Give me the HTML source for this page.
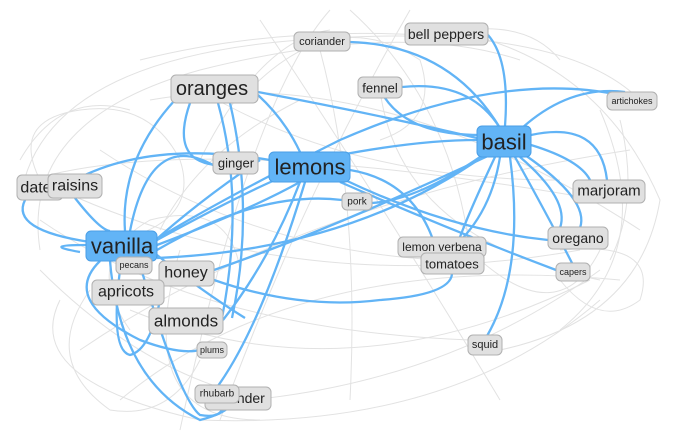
<!DOCTYPE html>
<html><head><meta charset="utf-8"><style>
html,body{margin:0;padding:0;background:#fff;}
svg{display:block;font-family:"Liberation Sans",sans-serif;}
.g{fill:none;stroke:#e2e2e2;stroke-width:1;}
.b{fill:none;stroke:#62b4f6;stroke-width:2.3;}
.n rect{fill:#e0e0e0;stroke:#b0b0b0;stroke-width:1;}
.h rect{fill:#62b4f6;stroke:#4a9ee6;stroke-width:1;}
text{fill:#222;text-anchor:middle;dominant-baseline:central;}
</style></head><body>
<svg width="690" height="435" viewBox="0 0 690 435">
<g class="g">
<path d="M20,200 Q40,60 300,40 Q560,20 640,100"/>
<path d="M40,250 Q20,120 200,70 Q400,20 520,60"/>
<path d="M60,300 Q20,380 200,420 Q450,430 600,300"/>
<path d="M120,400 Q300,250 620,280"/>
<path d="M150,100 Q380,60 640,230"/>
<path d="M30,180 Q200,130 600,200"/>
<path d="M80,350 Q300,200 630,150"/>
<path d="M180,430 Q250,100 330,10"/>
<path d="M220,420 Q300,200 410,10"/>
<path d="M260,20 Q380,200 500,400"/>
<path d="M320,50 Q360,200 350,400"/>
<path d="M380,90 Q400,240 600,280"/>
<path d="M450,30 Q600,60 660,200 Q640,320 500,350"/>
<path d="M600,110 Q660,250 560,330"/>
<path d="M40,220 Q200,330 470,340"/>
<path d="M100,150 Q250,250 440,260"/>
<path d="M200,90 Q350,180 560,180"/>
<path d="M60,190 Q300,300 580,250"/>
<path d="M130,310 Q350,400 590,280"/>
<path d="M250,400 Q450,380 600,270"/>
<path d="M140,60 Q300,20 480,40"/>
<path d="M40,270 Q150,380 270,400"/>
<path d="M350,10 Q450,100 470,250"/>
<path d="M420,40 Q520,10 560,60"/>
<path d="M160,230 Q200,150 300,100"/>
<path d="M620,120 Q640,200 610,260"/>
<path d="M40,180 Q10,120 80,110 Q150,100 180,160 Q200,220 120,240"/>
<path d="M90,290 Q40,360 110,410 Q170,420 200,360"/>
<path d="M130,330 Q80,260 150,220 Q230,200 240,270"/>
<path d="M240,100 Q330,0 420,60 Q440,120 380,140"/>
<path d="M560,250 Q660,240 640,300 Q600,330 560,280"/>
<path d="M480,260 Q560,330 600,250"/>
<path d="M20,160 Q60,90 130,110"/>
<path d="M180,250 Q130,420 260,420"/>
<path d="M200,160 Q260,40 330,30"/>
</g>
<g class="b">
<path d="M350,42 Q450,45 500,128"/>
<path d="M488,35 Q510,60 505,126"/>
<path d="M402,87 Q470,80 500,128"/>
<path d="M385,98 Q410,135 480,135"/>
<path d="M258,92 Q380,115 477,138"/>
<path d="M625,92 Q570,85 522,128"/>
<path d="M620,95 Q500,70 340,140 Q220,200 155,240"/>
<path d="M531,135 Q600,120 607,180"/>
<path d="M531,145 Q580,160 590,180"/>
<path d="M520,157 Q570,200 560,228"/>
<path d="M525,155 Q590,200 580,228"/>
<path d="M515,157 Q550,220 572,263"/>
<path d="M510,157 Q525,270 487,336"/>
<path d="M500,157 Q490,220 445,254"/>
<path d="M495,157 Q470,210 460,237"/>
<path d="M485,155 Q350,250 157,258"/>
<path d="M490,150 Q420,200 372,203"/>
<path d="M340,155 Q420,140 477,140"/>
<path d="M350,170 Q410,180 432,237"/>
<path d="M345,180 Q450,230 548,240"/>
<path d="M340,182 Q450,230 556,270"/>
<path d="M258,95 Q285,120 300,152"/>
<path d="M218,103 Q245,200 222,318"/>
<path d="M230,103 Q255,210 232,318"/>
<path d="M175,100 Q120,160 125,231"/>
<path d="M190,103 Q170,160 215,165"/>
<path d="M75,180 Q150,140 270,160"/>
<path d="M25,200 Q10,230 90,242"/>
<path d="M75,198 Q100,230 110,231"/>
<path d="M157,240 Q230,200 275,180"/>
<path d="M157,245 Q250,210 300,182"/>
<path d="M157,250 Q260,190 342,200"/>
<path d="M214,270 Q330,230 490,155"/>
<path d="M214,280 Q300,310 380,300 Q450,295 452,274"/>
<path d="M305,182 Q260,330 215,390"/>
<path d="M300,182 Q270,260 223,320"/>
<path d="M100,261 Q60,300 140,340 Q180,355 200,350"/>
<path d="M110,261 Q120,380 200,420 Q240,410 235,390"/>
<path d="M130,231 Q150,130 213,165"/>
<path d="M157,255 Q200,290 245,318"/>
<path d="M86,245 Q40,245 80,252"/>
<path d="M120,270 Q110,350 130,355 Q150,350 160,300"/>
<path d="M140,265 Q180,400 200,415 Q230,420 220,395"/>
<path d="M260,160 Q200,200 150,245"/>
</g>
<g class="n"><rect x="294" y="32" width="56" height="19" rx="5"/><text x="322" y="42" font-size="11">coriander</text></g>
<g class="n"><rect x="405" y="23" width="83" height="22" rx="5"/><text x="446" y="34" font-size="14">bell peppers</text></g>
<g class="n"><rect x="171" y="75" width="87" height="28" rx="5"/><text x="212" y="89" font-size="20">oranges</text></g>
<g class="n"><rect x="358" y="77" width="44" height="21" rx="5"/><text x="380" y="88" font-size="13">fennel</text></g>
<g class="n"><rect x="607" y="92" width="50" height="18" rx="5"/><text x="632" y="101" font-size="9">artichokes</text></g>
<g class="h"><rect x="477" y="126" width="54" height="31" rx="5"/><text x="504" y="142" font-size="22">basil</text></g>
<g class="n"><rect x="213" y="152" width="45" height="22" rx="5"/><text x="236" y="163" font-size="13">ginger</text></g>
<g class="h"><rect x="269" y="152" width="81" height="30" rx="5"/><text x="310" y="167" font-size="22">lemons</text></g>
<g class="n"><rect x="573" y="180" width="72" height="23" rx="5"/><text x="609" y="191" font-size="15">marjoram</text></g>
<g class="n"><rect x="17" y="175" width="46" height="25" rx="5"/><text x="40" y="188" font-size="16">dates</text></g>
<g class="n"><rect x="48" y="174" width="54" height="24" rx="5"/><text x="75" y="186" font-size="16">raisins</text></g>
<g class="n"><rect x="342" y="193" width="30" height="17" rx="5"/><text x="357" y="202" font-size="10">pork</text></g>
<g class="h"><rect x="86" y="231" width="71" height="30" rx="5"/><text x="122" y="246" font-size="22">vanilla</text></g>
<g class="n"><rect x="548" y="227" width="60" height="22" rx="5"/><text x="578" y="238" font-size="14">oregano</text></g>
<g class="n"><rect x="398" y="237" width="88" height="20" rx="5"/><text x="442" y="247" font-size="12">lemon verbena</text></g>
<g class="n"><rect x="116" y="257" width="36" height="17" rx="5"/><text x="134" y="265" font-size="9">pecans</text></g>
<g class="n"><rect x="159" y="261" width="55" height="25" rx="5"/><text x="186" y="273" font-size="16">honey</text></g>
<g class="n"><rect x="421" y="253" width="63" height="21" rx="5"/><text x="452" y="264" font-size="13">tomatoes</text></g>
<g class="n"><rect x="556" y="263" width="34" height="18" rx="5"/><text x="573" y="272" font-size="9">capers</text></g>
<g class="n"><rect x="92" y="280" width="72" height="25" rx="5"/><text x="126" y="292" font-size="16">apricots</text></g>
<g class="n"><rect x="149" y="308" width="74" height="26" rx="5"/><text x="186" y="321" font-size="17">almonds</text></g>
<g class="n"><rect x="197" y="342" width="30" height="16" rx="5"/><text x="212" y="350" font-size="9">plums</text></g>
<g class="n"><rect x="468" y="335" width="34" height="20" rx="5"/><text x="485" y="345" font-size="11">squid</text></g>
<g class="n"><rect x="205" y="387" width="66" height="23" rx="5"/><text x="238" y="398" font-size="14">lavender</text></g>
<g class="n"><rect x="195" y="385" width="44" height="18" rx="5"/><text x="217" y="394" font-size="10">rhubarb</text></g>
</svg>
</body></html>
